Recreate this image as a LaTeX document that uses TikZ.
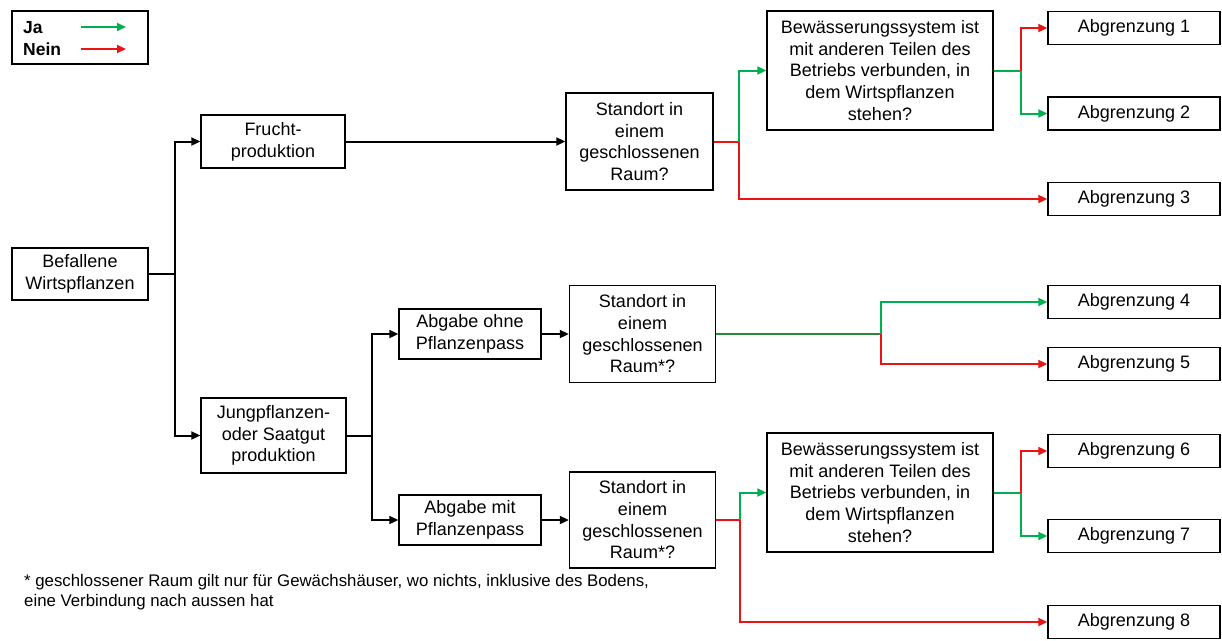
\documentclass[tikz,border=0pt]{standalone}
\usepackage{fontspec}
\setmainfont{Liberation Sans}
\usetikzlibrary{arrows.meta}
\definecolor{jagreen}{RGB}{0,176,80}
\definecolor{jagreendk}{RGB}{40,140,60}
\definecolor{neinred}{RGB}{235,20,20}
\newcommand\boxfont{\fontsize{18}{21.7}\selectfont}
\tikzset{
  box/.style={draw, line width=1.4pt, align=center, inner sep=0pt, font=\boxfont},
  con/.style={line width=2pt, -{Triangle[length=9pt,width=8pt]}},
  conn/.style={line width=2pt},
  blk/.style={con, black},
  ja/.style={con, jagreen},
  nein/.style={con, neinred},
}
\begin{document}
\begin{tikzpicture}[x=1pt,y=-1pt]
\useasboundingbox (0,0) rectangle (1222,640);
% legend
\node[draw, line width=1.4pt, minimum width=136pt, minimum height=53pt, inner sep=0pt] (leg) at (80,37.5) {};
\node[anchor=west, font=\fontsize{17.5}{20}\selectfont\bfseries, inner sep=0pt] (lja) at (23,28) {Ja};
\node[anchor=west, font=\fontsize{17.5}{20}\selectfont\bfseries, inner sep=0pt] (lnein) at (23,49) {Nein};
\coordinate (ga) at (81,27); \coordinate (gb) at (126,27);
\coordinate (ra) at (81,49); \coordinate (rb) at (126,49);
\draw[ja] (ga) -- (gb);
\draw[nein] (ra) -- (rb);

% nodes
\node[box, minimum width=136pt, minimum height=52pt] (bef) at (80,274) {Befallene\\Wirtspflanzen};
\node[box, minimum width=144pt, minimum height=53pt] (frucht) at (273,141.5) {Frucht-\\produktion};
\node[box, minimum width=145pt, minimum height=75pt] (jung) at (273.5,435.5) {Jungpflanzen-\\oder Saatgut\\produktion};
\node[box, minimum width=147pt, minimum height=97pt] (st1) at (639.5,141.5) {Standort in\\einem\\geschlossenen\\Raum?};
\node[box, minimum width=226pt, minimum height=119pt] (bw1) at (880,70.5) {Bewässerungssystem ist\\mit anderen Teilen des\\Betriebs verbunden, in\\dem Wirtspflanzen\\stehen?};
\node[box, minimum width=172pt, minimum height=33pt] (a1) at (1134,28) {Abgrenzung 1};
\node[box, minimum width=172pt, minimum height=33pt] (a2) at (1134,113.5) {Abgrenzung 2};
\node[box, minimum width=172pt, minimum height=33pt] (a3) at (1134,199) {Abgrenzung 3};
\node[box, minimum width=142pt, minimum height=50pt] (ohne) at (470,334) {Abgabe ohne\\Pflanzenpass};
\node[box, minimum width=146pt, minimum height=97pt] (st2) at (642.5,334) {Standort in\\einem\\geschlossenen\\Raum*?};
\node[box, minimum width=172pt, minimum height=33pt] (a4) at (1134,302) {Abgrenzung 4};
\node[box, minimum width=172pt, minimum height=33pt] (a5) at (1134,364) {Abgrenzung 5};
\node[box, minimum width=142pt, minimum height=50pt] (mit) at (470,520) {Abgabe mit\\Pflanzenpass};
\node[box, minimum width=146pt, minimum height=96pt] (st3) at (642.5,520) {Standort in\\einem\\geschlossenen\\Raum*?};
\node[box, minimum width=226pt, minimum height=119pt] (bw2) at (880,492.5) {Bewässerungssystem ist\\mit anderen Teilen des\\Betriebs verbunden, in\\dem Wirtspflanzen\\stehen?};
\node[box, minimum width=172pt, minimum height=33pt] (a6) at (1134,451) {Abgrenzung 6};
\node[box, minimum width=172pt, minimum height=33pt] (a7) at (1134,536) {Abgrenzung 7};
\node[box, minimum width=172pt, minimum height=33pt] (a8) at (1134,622) {Abgrenzung 8};

% junction coordinates
\coordinate (j1) at (175,274);
\coordinate (j2) at (372,435.5);
\coordinate (j3) at (739,141.5);
\coordinate (j4) at (1021,70.5);
\coordinate (j5) at (881,334);
\coordinate (j6) at (740,520);
\coordinate (j7) at (1021,492.5);

% black connectors
\draw[conn] (bef.east) -- (j1);
\draw[blk] (j1) |- (frucht.west);
\draw[blk] (j1) |- (jung.west);
\draw[blk] (frucht.east) -- (st1.west);
\draw[conn] (jung.east) -- (j2);
\draw[blk] (j2) |- (ohne.west);
\draw[blk] (j2) |- (mit.west);
\draw[blk] (ohne.east) -- (st2.west);
\draw[blk] (mit.east) -- (st3.west);

% top branch
\draw[conn, neinred] (st1.east) -- (j3);
\draw[ja] (j3) |- (bw1.west);
\draw[nein] (j3) |- (a3.west);
\draw[conn, jagreen] (bw1.east) -- (j4);
\draw[nein] (j4) |- (a1.west);
\draw[ja] (j4) |- (a2.west);

% middle branch
\draw[conn, jagreendk] (st2.east) -- (j5);
\draw[ja] (j5) |- (a4.west);
\draw[nein] (j5) |- (a5.west);

% bottom branch
\draw[conn, neinred] (st3.east) -- (j6);
\draw[ja] (j6) |- (bw2.west);
\draw[nein] (j6) |- (a8.west);
\draw[conn, jagreen] (bw2.east) -- (j7);
\draw[nein] (j7) |- (a6.west);
\draw[ja] (j7) |- (a7.west);

% footnote
\node[anchor=north west, align=left, inner sep=0pt, font=\fontsize{16.8}{20.5}\selectfont] (fn) at (24,574) {* geschlossener Raum gilt nur für Gewächshäuser, wo nichts, inklusive des Bodens,\\eine Verbindung nach aussen hat};
\end{tikzpicture}
\end{document}
